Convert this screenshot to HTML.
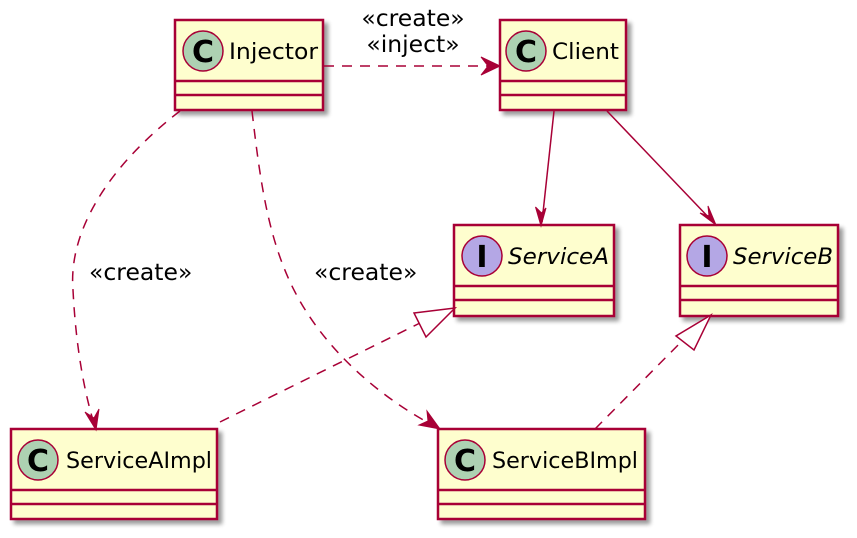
<!DOCTYPE html>
<html><head><meta charset="utf-8"><style>
html,body{margin:0;padding:0;background:#fff}
svg{display:block}
</style></head><body>
<svg width="857" height="538" viewBox="0 0 857 538" xmlns="http://www.w3.org/2000/svg" font-family="DejaVu Sans, Liberation Sans, sans-serif" font-size="20">
<defs>
<filter id="sh" x="-10%" y="-10%" width="130%" height="130%">
<feGaussianBlur in="SourceAlpha" stdDeviation="2"/>
<feOffset dx="4" dy="4"/>
<feComponentTransfer><feFuncA type="linear" slope="0.4"/></feComponentTransfer>
<feMerge><feMergeNode/><feMergeNode in="SourceGraphic"/></feMerge>
</filter>
</defs>

<g stroke="#A80036" stroke-width="2.5" fill="#FEFECE">
<rect x="175" y="20" width="148" height="90" filter="url(#sh)"/>
<line x1="175" y1="81" x2="323" y2="81"/><line x1="175" y1="95" x2="323" y2="95"/>
<rect x="500" y="20" width="126" height="90" filter="url(#sh)"/>
<line x1="500" y1="81" x2="626" y2="81"/><line x1="500" y1="95" x2="626" y2="95"/>
<rect x="454" y="225" width="160" height="91" filter="url(#sh)"/>
<line x1="454" y1="286" x2="614" y2="286"/><line x1="454" y1="300" x2="614" y2="300"/>
<rect x="680" y="225" width="158" height="91" filter="url(#sh)"/>
<line x1="680" y1="286" x2="838" y2="286"/><line x1="680" y1="300" x2="838" y2="300"/>
<rect x="11" y="429" width="206" height="90" filter="url(#sh)"/>
<line x1="11" y1="490" x2="217" y2="490"/><line x1="11" y1="504" x2="217" y2="504"/>
<rect x="438" y="429" width="207" height="90" filter="url(#sh)"/>
<line x1="438" y1="490" x2="645" y2="490"/><line x1="438" y1="504" x2="645" y2="504"/>
</g>

<g stroke="#A80036" stroke-width="1.5">
<circle cx="203" cy="51" r="20" fill="#ADD1B2"/>
<circle cx="526" cy="51" r="20" fill="#ADD1B2"/>
<circle cx="482" cy="256" r="20" fill="#B4A7E5"/>
<circle cx="707" cy="256" r="20" fill="#B4A7E5"/>
<circle cx="38" cy="460" r="20" fill="#ADD1B2"/>
<circle cx="465" cy="460" r="20" fill="#ADD1B2"/>
</g>
<g font-weight="bold" font-size="30" text-anchor="middle" fill="#000">
<text x="203" y="62">C</text>
<text x="526" y="62">C</text>
<text x="482" y="267">I</text>
<text x="707" y="267">I</text>
<text x="38" y="471">C</text>
<text x="465" y="471">C</text>
</g>
<g fill="#000" font-size="22" lengthAdjust="spacingAndGlyphs">
<text x="229" y="59" textLength="89" lengthAdjust="spacingAndGlyphs">Injector</text>
<text x="552" y="59" textLength="67" lengthAdjust="spacingAndGlyphs">Client</text>
<text x="508" y="264" font-style="italic" textLength="101" lengthAdjust="spacingAndGlyphs">ServiceA</text>
<text x="733" y="264" font-style="italic" textLength="100" lengthAdjust="spacingAndGlyphs">ServiceB</text>
<text x="66" y="468" textLength="146" lengthAdjust="spacingAndGlyphs">ServiceAImpl</text>
<text x="492" y="468" textLength="146" lengthAdjust="spacingAndGlyphs">ServiceBImpl</text>
</g>

<g stroke="#A80036" stroke-width="1.5" fill="none">
<line x1="324" y1="66" x2="497" y2="66" stroke-dasharray="10,8"/>
<path d="M180,111 C110,165 68,230 73,290 C76,350 85,395 95,427" stroke-dasharray="10,8"/>
<path d="M252,111 C260,180 268,240 295,292 C325,350 380,398 438,428" stroke-dasharray="10,8"/>
<line x1="554" y1="111" x2="542" y2="222"/>
<line x1="607" y1="111" x2="713" y2="222"/>
<line x1="220" y1="422" x2="420" y2="323" stroke-dasharray="10,8"/>
<line x1="595" y1="429" x2="686" y2="337" stroke-dasharray="10,8"/>
</g>
<g fill="#A80036" stroke="#A80036" stroke-width="1">
<polygon points="500,66 481,57 488,66 481,75"/>
<polygon points="541,226 535.5,207 541.5,213 546,208"/>
<polygon points="716,225 700,213 709,216 708,206"/>
<polygon points="96,430 85,412 94,418 99,409"/>
<polygon points="440,429 419,425 428,421 427,411"/>
</g>
<g fill="#fff" stroke="#A80036" stroke-width="1.5">
<polygon points="455,308 414,313 426,337"/>
<polygon points="711,315 676,336 694,350"/>
</g>

<g fill="#000" font-size="23.5">
<text x="413" y="26" text-anchor="middle">«create»</text>
<text x="413" y="52" text-anchor="middle">«inject»</text>
<text x="89" y="280">«create»</text>
<text x="314" y="280">«create»</text>
</g>
</svg>
</body></html>
